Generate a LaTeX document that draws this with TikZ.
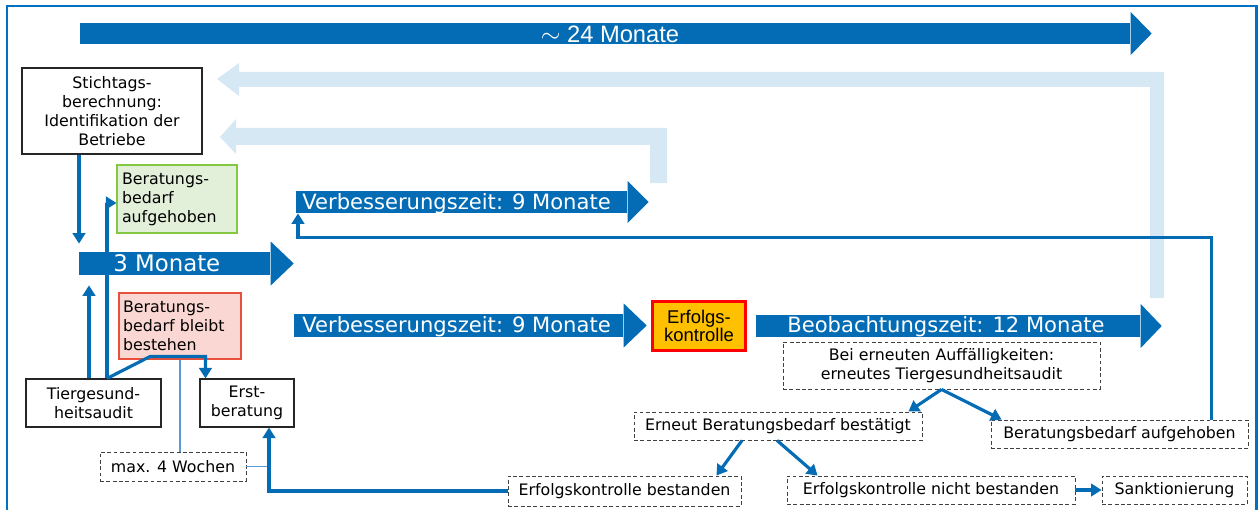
\documentclass[tikz,border=0pt]{standalone}
\usepackage{fontspec}
\setmainfont{DejaVu Sans}
\newfontfamily\arialfont{Liberation Sans}
\usetikzlibrary{arrows.meta,positioning}

\definecolor{dblau}{RGB}{3,108,180}
\definecolor{hblau}{RGB}{213,232,244}
\definecolor{rahmen}{RGB}{0,112,192}
\definecolor{duenn}{RGB}{91,155,213}
\definecolor{gruenfill}{RGB}{226,240,217}
\definecolor{gruenrand}{RGB}{132,199,64}
\definecolor{rotfill}{RGB}{250,215,210}
\definecolor{rotrand}{RGB}{232,80,60}
\definecolor{kgelb}{RGB}{255,192,0}

\newdimen\pxu \pxu=0.02cm

\tikzset{
  box/.style={draw=black!85, line width=0.6pt, fill=white, inner sep=0pt, align=center, font=\fontsize{9}{10.8}\selectfont},
  lbox/.style={box, align=left, text width=#1},
  dbox/.style={draw=black!75, dash pattern=on 2.2pt off 1.4pt, line width=0.5pt, inner sep=0pt, align=center, font=\fontsize{9}{10.8}\selectfont},
  shaft/.style={fill=dblau, inner sep=0pt, anchor=west},
  bigtext/.style={text=white, inner sep=0pt, font=\fontsize{12}{14}\selectfont},
  conn/.style={draw=dblau, line width=1.8pt, -{Triangle[length=2.1mm,width=2.5mm]}},
  thin/.style={draw=duenn, line width=0.6pt}
}

\begin{document}
\begin{tikzpicture}[x=0.02cm, y=-0.02cm]
  \useasboundingbox (0,0) rectangle (1258,510);
  \draw[rahmen, line width=1.2pt] (7,6) rectangle (1256.5,530);

  % helle Rueckpfeile
  \fill[hblau] (217,79) -- (239,63) -- (239,72) -- (1164,72) -- (1164,298) -- (1150,298) -- (1150,87) -- (239,87) -- (239,96) -- cycle;
  \fill[hblau] (220,137) -- (236,119) -- (236,128) -- (667,128) -- (667,183) -- (650,183) -- (650,145) -- (236,145) -- (236,154) -- cycle;

  % Zeitpfeile
  \node[shaft, minimum width=1050\pxu, minimum height=21\pxu] (a24) at (80,33.5) {};
  \fill[dblau] (a24.east) ++(0,-21.5) -- ++(21,21.5) -- ++(-21,21.5) -- cycle;
  \node[bigtext, font=\arialfont\fontsize{13.5}{15}\selectfont, anchor=base] (t24) at (610,43) {$\sim$ 24 Monate};

  \node[shaft, minimum width=191\pxu, minimum height=23\pxu] (a3) at (79,263.5) {};
  \fill[dblau] (a3.east) ++(0,-22) -- ++(23,22) -- ++(-23,22) -- cycle;
  \node[bigtext, font=\fontsize{13}{15}\selectfont, anchor=base west] (t3) at (113,271) {3 Monate};

  \node[shaft, minimum width=331\pxu, minimum height=22\pxu] (vz1) at (296,202) {};
  \fill[dblau] (vz1.east) ++(0,-21) -- ++(21,21) -- ++(-21,21) -- cycle;
  \node[bigtext, anchor=base west] (tvz1) at (302,209) {Verbesserungszeit: 9 Monate};

  \node[shaft, minimum width=329\pxu, minimum height=23\pxu] (vz2) at (294,325.5) {};
  \fill[dblau] (vz2.east) ++(0,-22) -- ++(23,22) -- ++(-23,22) -- cycle;
  \node[bigtext, anchor=base west] (tvz2) at (302,332) {Verbesserungszeit: 9 Monate};

  \node[shaft, minimum width=384\pxu, minimum height=22\pxu] (bz) at (756,326) {};
  \fill[dblau] (bz.east) ++(0,-22) -- ++(21,22) -- ++(-21,22) -- cycle;
  \node[bigtext, anchor=base west] (tbz) at (787,332) {Beobachtungszeit: 12 Monate};

  % Kaesten
  \node[box, minimum width=180\pxu, minimum height=86\pxu] (stich) at (112,111) {Stichtags-\\berechnung:\\Identifikation der\\Betriebe};
  \node[lbox=110\pxu, fill=gruenfill, draw=gruenrand, minimum height=68\pxu, inner xsep=5\pxu] (gruen) at (177,199) {Beratungs-\\bedarf\\aufgehoben};
  \node[lbox=114\pxu, fill=rotfill, draw=rotrand, minimum height=66\pxu, inner xsep=4\pxu] (rot) at (180,326) {Beratungs-\\bedarf bleibt\\bestehen};
  \node[box, minimum width=135\pxu, minimum height=48\pxu] (tg) at (93.5,403) {Tiergesund-\\heitsaudit};
  \node[box, minimum width=94\pxu, minimum height=48\pxu] (erst) at (247,403) {Erst-\\beratung};
  \node[dbox, minimum width=146\pxu, minimum height=29\pxu] (max4) at (173,466.5) {max. 4 Wochen};
  \node[box, fill=kgelb, draw=red, line width=1.6pt, minimum width=93\pxu, minimum height=49\pxu, font=\arialfont\fontsize{10.5}{10.6}\selectfont] (ek) at (699,326) {Erfolgs-\\kontrolle};
  \node[dbox, minimum width=317\pxu, minimum height=47\pxu] (bei) at (941.5,365.5) {Bei erneuten Auffälligkeiten:\\erneutes Tiergesundheitsaudit};
  \node[dbox, minimum width=288\pxu, minimum height=28\pxu] (erneut) at (778,426) {Erneut Beratungsbedarf bestätigt};
  \node[dbox, minimum width=257\pxu, minimum height=28\pxu] (aufg) at (1119.5,434) {Beratungsbedarf aufgehoben};
  \node[dbox, minimum width=233\pxu, minimum height=30\pxu] (best) at (624.5,491) {Erfolgskontrolle bestanden};
  \node[dbox, minimum width=288\pxu, minimum height=28\pxu] (nicht) at (931,490) {Erfolgskontrolle nicht bestanden};
  \node[dbox, minimum width=145\pxu, minimum height=28\pxu] (sank) at (1174.5,490) {Sanktionierung};

  % Hilfspunkte
  \coordinate (tgl) at ([xshift=-4.5\pxu]tg.north);
  \coordinate (tgr) at ([xshift=13.5\pxu]tg.north);
  \coordinate (knick) at ([xshift=-30\pxu, yshift=3\pxu]rot.south);
  \coordinate (ersteinl) at ([xshift=6\pxu]erst.north west);
  \coordinate (ersteaus) at ([xshift=22\pxu]erst.south);
  \coordinate (aufgo) at ([xshift=92\pxu]aufg.north);
  \coordinate (vzein) at ([xshift=2\pxu]vz1.south west);

  % duenne Linien
  \draw[thin] (rot.south) -- (rot.south |- max4.north);
  \draw[thin] (max4.east) -- (max4.east -| ersteaus);

  % Verbindungen
  \draw[conn, shorten >=8\pxu] (stich.south -| a3.west) -- (a3.north west);
  \draw[conn, shorten >=10\pxu] (tgl) -- (tgl |- a3.south);
  \draw[conn] (tgr) |- ([yshift=-4\pxu]gruen.west);
  \draw[conn] (tgr) -- (knick) -| (ersteinl);
  \draw[conn] (best.west) -| (ersteaus);
  \draw[conn] (aufgo) |- ([yshift=-24\pxu]vzein) -- (vzein);
  \draw[conn] (bei.south) -- ([xshift=-14\pxu]erneut.north east);
  \draw[conn] (bei.south) -- ([xshift=11\pxu]aufg.north west);
  \draw[conn] ([xshift=-36\pxu]erneut.south) -- ([xshift=-25\pxu]best.north east);
  \draw[conn] ([xshift=-1\pxu]erneut.south) -- ([xshift=31\pxu]nicht.north west);
  \draw[conn] (nicht.east) -- (sank.west);
\end{tikzpicture}
\end{document}
